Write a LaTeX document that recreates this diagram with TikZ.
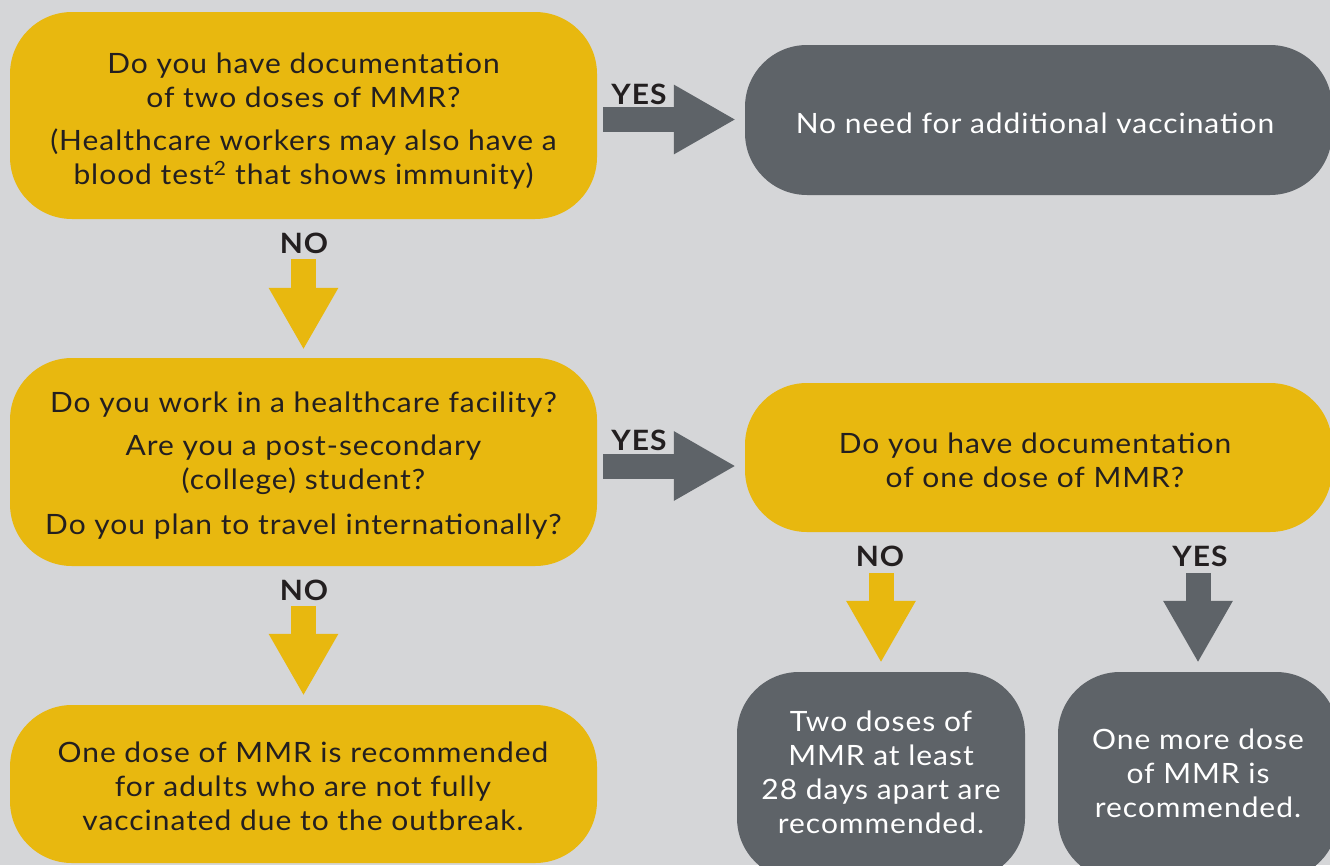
\documentclass[tikz,border=0pt]{standalone}
\usepackage{fontspec}
\setmainfont{Lato}[FakeStretch=1.07,LetterSpace=3.5]
\usetikzlibrary{arrows.meta,calc}
\definecolor{bgc}{HTML}{D5D6D8}
\definecolor{ylw}{HTML}{E8B80F}
\definecolor{gry}{HTML}{5E6368}
\definecolor{ink}{HTML}{231F20}
\begin{document}
\begin{tikzpicture}[x=1pt,y=-1pt,
  box/.style={rounded corners=62pt, inner sep=0pt},
  ybox/.style={box, fill=ylw},
  gbox/.style={box, fill=gry},
  tx/.style={inner sep=0pt, align=center, font=\fontsize{28}{34}\selectfont},
  ytx/.style={tx, text=ink},
  gtx/.style={tx, text=white},
  lbl/.style={font=\bfseries\fontsize{28}{30}\selectfont, text=ink, inner sep=0pt},
  yarr/.style={draw=ylw, line width=25pt, -{Triangle[length=62pt,width=65pt,sep=0pt]}},
  garr/.style={draw=gry, line width=25pt, -{Triangle[length=62pt,width=65pt,sep=0pt]}}]
\fill[bgc] (0,0) rectangle (1330,865);
\clip (0,0) rectangle (1330,865);
\useasboundingbox (0,0) rectangle (1330,865);

% boxes
\node[ybox, minimum width=587pt, minimum height=207pt] (q1) at (303.5,115.5) {};
\node[gbox, minimum width=587pt, minimum height=150pt] (q2) at (1038.5,120) {};
\node[ybox, minimum width=587pt, minimum height=208pt] (q3) at (303.5,462) {};
\node[ybox, minimum width=587pt, minimum height=149pt] (q4) at (1038.5,457.5) {};
\node[ybox, minimum width=587pt, minimum height=158pt] (r1) at (303.5,784) {};
\node[gbox, minimum width=288pt, minimum height=208pt] (r2) at (881,776) {};
\node[gbox, minimum width=280pt, minimum height=208pt] (r3) at (1198,776) {};

% texts
\node[ytx] (q1t) at (303.5,121)
  {Do you have documentation\\of two doses of MMR?\\[9pt](Healthcare workers may also have a\\blood test\textsuperscript{2} that shows immunity)};
\node[gtx] (q2t) at (1035,123) {No need for additional vaccination};
\node[ytx] (q3t) at (303.5,466)
  {Do you work in a healthcare facility?\\[9pt]Are you a post-secondary\\(college) student?\\[11pt]Do you plan to travel internationally?};
\node[ytx] (q4t) at (1035,460) {Do you have documentation\\of one dose of MMR?};
\node[ytx] (r1t) at (303,786.5)
  {One dose of MMR is recommended\\for adults who are not fully\\vaccinated due to the outbreak.};
\node[gtx] (r2t) at (881,772) {Two doses of\\MMR at least\\28 days apart are\\recommended.};
\node[gtx] (r3t) at (1198,773) {One more dose\\of MMR is\\recommended.};

% connectors
\draw[garr] ($(q1.east)+(6,4)$) -- ($(q2.west)+(-9,-0.5)$);
\draw[yarr] ($(q1.south)+(0,40)$) -- ($(q3.north)+(0,-8)$);
\draw[garr] ($(q3.east)+(6,4)$) -- ($(q4.west)+(-9,8.5)$);
\draw[yarr] ($(q3.south)+(0,40)$) -- ($(r1.north)+(0,-9)$);
\draw[yarr] ($(q4.south -| r2.north)+(0,41)$) -- ($(r2.north)+(0,-9)$);
\draw[garr] ($(q4.south -| r3.north)+(0,41)$) -- ($(r3.north)+(0,-9)$);

% labels
\node[lbl] (yes1) at (639,94) {YES};
\node[lbl] (no1) at (304,243) {NO};
\node[lbl] (yes2) at (639,440) {YES};
\node[lbl] (no2) at (304,590) {NO};
\node[lbl] (no3) at (880,556) {NO};
\node[lbl] (yes3) at (1200,556) {YES};
\end{tikzpicture}
\end{document}
